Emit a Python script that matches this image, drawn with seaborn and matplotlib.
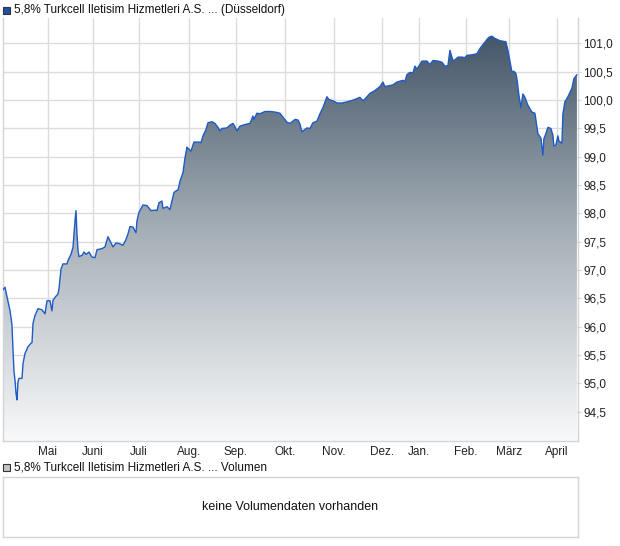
import numpy as np
import pandas as pd
import matplotlib
matplotlib.use("Agg")
import matplotlib.pyplot as plt
import seaborn as sns
from matplotlib.colors import LinearSegmentedColormap
from matplotlib.patches import Rectangle
from matplotlib.ticker import FuncFormatter, FixedLocator

# Handelstag-Index (fortlaufend) und Kurs
tage = [0, 2, 4, 7, 9, 10, 11, 12, 13, 14, 15, 16, 19, 20, 22, 25, 28, 29, 30, 32,
        35, 39, 42, 44, 47, 49, 50, 53, 55, 56, 58, 60, 64, 65, 68, 70, 71, 72, 73, 74,
        75, 76, 79, 81, 83, 86, 89, 92, 94, 99, 102, 105, 108, 110, 113, 116, 120, 123, 125, 127,
        130, 133, 134, 136, 140, 144, 148, 152, 154, 156, 159, 160, 164, 167, 169, 171, 174, 175, 177, 180,
        182, 184, 185, 188, 191, 196, 198, 200, 203, 205, 209, 212, 215, 217, 219, 224, 227, 230, 232, 234,
        237, 242, 247, 250, 251, 254, 257, 262, 267, 272, 277, 280, 284, 287, 290, 292, 295, 297, 299, 301,
        304, 307, 310, 314, 317, 320, 324, 326, 330, 334, 339, 344, 350, 357, 360, 362, 367, 372, 377, 380,
        382, 385, 390, 394, 400, 402, 404, 407, 410, 412, 414, 417, 419, 424, 427, 430, 435, 439, 442, 445,
        447, 450, 452, 455, 459, 462, 464, 469, 474, 477, 480, 484, 486, 489, 492, 497, 503, 505, 509, 511,
        513, 514, 516, 518, 520, 522, 525, 529, 532, 534, 535, 538, 540, 541, 543, 545, 548, 550, 551, 553,
        555, 556, 559, 560, 562, 565, 569, 571, 574]
kurs = [96.65, 96.70, 96.53, 96.29, 96.03, 95.59, 95.21, 95.06, 94.83, 94.71, 95.03, 95.09, 95.09, 95.35, 95.53, 95.65, 95.71, 95.72, 96.06, 96.20,
        96.32, 96.30, 96.23, 96.46, 96.46, 96.28, 96.47, 96.54, 96.58, 96.67, 97.02, 97.11, 97.11, 97.17, 97.28, 97.40, 97.64, 97.87, 98.05, 97.64,
        97.35, 97.24, 97.26, 97.32, 97.28, 97.32, 97.23, 97.22, 97.36, 97.38, 97.41, 97.59, 97.48, 97.41, 97.48, 97.47, 97.44, 97.54, 97.64, 97.77,
        97.76, 97.66, 97.87, 98.02, 98.15, 98.14, 98.05, 98.06, 98.05, 98.19, 98.22, 98.09, 98.12, 98.07, 98.22, 98.37, 98.41, 98.41, 98.57, 98.72,
        98.98, 99.17, 99.15, 99.10, 99.26, 99.26, 99.25, 99.37, 99.48, 99.60, 99.62, 99.59, 99.52, 99.46, 99.50, 99.51, 99.56, 99.59, 99.53, 99.46,
        99.54, 99.57, 99.59, 99.72, 99.66, 99.77, 99.76, 99.80, 99.80, 99.79, 99.77, 99.70, 99.61, 99.59, 99.63, 99.66, 99.65, 99.58, 99.44, 99.47,
        99.51, 99.50, 99.60, 99.63, 99.76, 99.87, 100.06, 100.01, 99.99, 99.95, 99.95, 99.97, 100.00, 100.05, 99.99, 100.02, 100.12, 100.17, 100.24, 100.32,
        100.24, 100.25, 100.27, 100.32, 100.35, 100.33, 100.45, 100.49, 100.48, 100.60, 100.55, 100.63, 100.69, 100.69, 100.63, 100.70, 100.69, 100.67, 100.60, 100.61,
        100.88, 100.70, 100.71, 100.76, 100.76, 100.75, 100.79, 100.80, 100.82, 100.91, 100.98, 101.07, 101.11, 101.13, 101.09, 101.05, 101.03, 100.88, 100.50, 100.51,
        100.47, 100.38, 100.09, 99.87, 100.11, 100.05, 99.91, 99.79, 99.77, 99.53, 99.41, 99.33, 99.03, 99.32, 99.41, 99.52, 99.50, 99.38, 99.19, 99.21,
        99.37, 99.28, 99.24, 99.76, 99.97, 100.06, 100.21, 100.38, 100.45]

monat_pos = [45, 90, 136, 186, 233, 282, 331, 379, 416, 463, 506, 554]
monat_namen = ["Mai", "Juni", "Juli", "Aug.", "Sep.", "Okt.", "Nov.", "Dez.", "Jan.", "Feb.", "März", "April"]
y_ticks = [94.5, 95.0, 95.5, 96.0, 96.5, 97.0, 97.5, 98.0, 98.5, 99.0, 99.5, 100.0, 100.5, 101.0]

titel = "5,8% Turkcell Iletisim Hizmetleri A.S. ... (Düsseldorf)"
titel_vol = "5,8% Turkcell Iletisim Hizmetleri A.S. ... Volumen"

sns.set_style("white")
plt.rcParams['font.family'] = ['Liberation Sans', 'DejaVu Sans']

W, H = 620, 546
fig = plt.figure(figsize=(W / 100, H / 100), dpi=100)

grid_col = "#dcdcdc"
rand_col = "#d4d4d4"

# Kursbereich
ax = fig.add_axes([2.7 / W, 1 - 440.7 / H, 575 / W, (440.7 - 18) / H])
ymin, ymax = 93.99, 101.45
df = pd.DataFrame({"tag": tage, "kurs": kurs})

cmap = LinearSegmentedColormap.from_list("verlauf", ["#f8f9fa", "#a9b2b9", "#45576a"])
grad = np.linspace(0, 1, 256).reshape(-1, 1)
im = ax.imshow(grad, extent=[df.tag.min(), df.tag.max(), ymin, df.kurs.max()],
               aspect="auto", cmap=cmap, origin="lower", zorder=1)
poly = ax.fill_between(df.tag, df.kurs, ymin, color="none", lw=0)
im.set_clip_path(poly.get_paths()[0], transform=ax.transData)

sns.lineplot(data=df, x="tag", y="kurs", color="#1d5bc6", linewidth=1.0, ax=ax, zorder=3)

ax.set_xlim(-0.3, 574.8)
ax.set_ylim(ymin, ymax)
ax.xaxis.set_major_locator(FixedLocator(monat_pos))
ax.set_xticklabels(monat_namen)
ax.yaxis.set_major_locator(FixedLocator(y_ticks))
ax.yaxis.set_major_formatter(FuncFormatter(lambda v, p: f"{v:.1f}".replace(".", ",")))
ax.yaxis.tick_right()
ax.grid(True, color=grid_col, linewidth=1, zorder=0)
ax.set_axisbelow(True)
ax.tick_params(axis="both", labelsize=8.5, colors="#222222", length=2, width=0.8)
ax.tick_params(axis="x", color=rand_col, pad=1.5)
ax.tick_params(axis="y", color=rand_col, pad=2)
ax.set_xlabel("")
ax.set_ylabel("")
for s in ["left", "bottom", "right"]:
    ax.spines[s].set_color(rand_col)
    ax.spines[s].set_linewidth(1)
ax.spines["top"].set_visible(False)

# Legenden-Kopfzeilen
fig.add_artist(Rectangle((3 / W, 1 - 14 / H), 7 / W, 7 / H, transform=fig.transFigure,
                         facecolor="#1f4fa8", edgecolor="#333333", lw=0.8))
fig.text(14 / W, 1 - 10.5 / H, titel, fontsize=8.5, va="center", ha="left", color="#111111")
fig.add_artist(Rectangle((3 / W, 1 - 471 / H), 7 / W, 7 / H, transform=fig.transFigure,
                         facecolor="#c4c4c4", edgecolor="#333333", lw=0.8))
fig.text(14 / W, 1 - 467.5 / H, titel_vol, fontsize=8.5, va="center", ha="left", color="#111111")

# Volumenbereich
ax2 = fig.add_axes([2.7 / W, 1 - 537 / H, 575 / W, 60 / H])
ax2.set_xticks([])
ax2.set_yticks([])
for s in ax2.spines.values():
    s.set_color(rand_col)
    s.set_linewidth(1)
ax2.text(0.5, 0.5, "keine Volumendaten vorhanden", transform=ax2.transAxes,
         ha="center", va="center", fontsize=9, color="#111111")

fig.savefig("out.png", dpi=100)
